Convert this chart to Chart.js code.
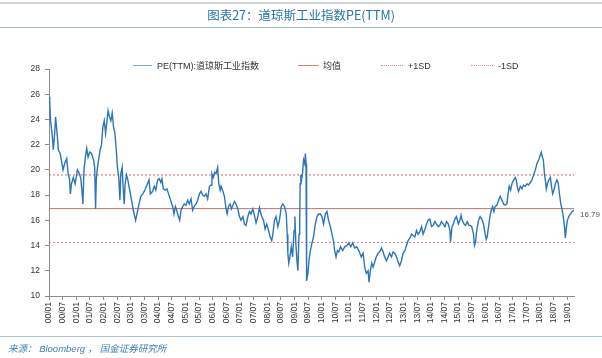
<!DOCTYPE html>
<html>
<head>
<meta charset="utf-8">
<script src="https://cdn.jsdelivr.net/npm/chart.js@4/dist/chart.umd.min.js"></script>
<style>
  body { margin: 0; background: #fff; }
  #wrap { position: relative; width: 602px; height: 358px; overflow: hidden; font-family: "Liberation Sans", Arial, "Noto Sans CJK SC", sans-serif; }
  #chart { position: absolute; left: 0; top: 0; }
  .rule { position: absolute; left: 0; width: 602px; }
  #title { position: absolute; left: 0; width: 602px; top: 6px; text-align: center; font-size: 12.5px; line-height: 18px; color: #2a72a8; font-family: "Noto Sans CJK SC", "Liberation Sans", sans-serif; }
  .lg { position: absolute; top: 60px; font-size: 9px; line-height: 12px; color: #333; white-space: nowrap; }
  .ls { position: absolute; top: 65px; height: 0; }
  #source { position: absolute; left: 8px; top: 343px; font-size: 9.5px; line-height: 12px; font-style: italic; color: #3f80b5; white-space: nowrap; }
</style>
</head>
<body>
<div id="wrap">
  <canvas id="chart" width="602" height="358"></canvas>
  <div class="rule" style="top:2px;border-top:2px solid #cdd6db;"></div>
  <div id="title">图表27：道琼斯工业指数PE(TTM)</div>
  <div class="rule" style="top:27px;border-top:1.5px solid #9db7c5;"></div>

  <div class="ls" style="left:133px;width:19px;border-top:1px solid #7fa9cf;"></div>
  <div class="lg" style="left:157px;">PE(TTM):道琼斯工业指数</div>
  <div class="ls" style="left:298px;width:21px;border-top:1px solid #d77f79;"></div>
  <div class="lg" style="left:323px;">均值</div>
  <div class="ls" style="left:381px;width:22px;border-top:1px dotted #d98b86;"></div>
  <div class="lg" style="left:408px;">+1SD</div>
  <div class="ls" style="left:471px;width:22px;border-top:1px dotted #dd9aa8;"></div>
  <div class="lg" style="left:498px;">-1SD</div>

  <div class="rule" style="top:336px;border-top:1px solid #a8c5d2;"></div>
  <div id="source">来源： Bloomberg ， 国金证券研究所</div>
</div>
<script>
// months since 2000/01
const peMonths = [
  0, 0.3, 0.7, 1.5, 1.9, 2.5, 2.9, 3.7, 4.1, 4.9, 5.4, 6.2, 6.9, 7.8, 8.4, 9.0, 9.4, 9.9,
  10.7, 11.5, 12.5, 13.4, 14.0, 14.6, 14.9, 15.4, 16.0, 16.6, 17.2, 17.9, 18.7, 19.6, 20.1,
  20.5, 20.8, 21.2, 21.8, 22.5, 23.1, 23.7, 24.3, 24.9, 25.4, 26.0, 26.6, 27.2, 27.8, 28.4,
  29.0, 29.6, 30.1, 30.7, 31.2, 31.6, 32.2, 32.6, 33.1, 33.5, 34.1, 34.7, 35.4, 36.3, 37.2,
  38.1, 38.7, 39.6, 40.4, 41.3, 42.2, 43.1, 44.0, 44.6, 45.6, 46.3, 47.0, 47.8, 48.5, 49.2,
  49.7, 50.3, 51.2, 51.9, 52.6, 53.5, 54.4, 55.0, 55.6, 56.2, 56.9, 57.5, 58.1, 58.8, 59.5,
  60.3, 61.0, 61.7, 62.5, 63.2, 63.9, 64.7, 65.4, 66.2, 66.9, 67.6, 68.4, 69.1, 69.8, 70.6,
  71.3, 71.7, 72.3, 72.9, 73.5, 74.2, 74.7, 75.3, 75.7, 76.5, 77.2, 77.9, 78.4, 79.0, 79.7,
  80.3, 80.9, 81.6, 82.3, 83.1, 83.8, 84.5, 85.3, 86.0, 86.7, 87.5, 88.2, 88.9, 89.7, 90.4,
  91.1, 91.9, 92.6, 93.0, 93.6, 94.4, 95.1, 95.8, 96.6, 97.3, 98.0, 98.5, 99.2, 99.9, 100.7,
  101.4, 102.2, 102.9, 103.6, 104.4, 104.8, 105.1, 105.5, 106.0, 106.6, 107.2, 107.8, 108.2,
  108.6, 109.1, 109.5, 110.0, 110.3, 110.5, 110.8, 111.1, 111.6, 112.0, 112.5, 112.8, 113.1,
  113.2, 113.5, 113.9, 114.4, 115.0, 115.7, 116.4, 117.2, 117.9, 118.6, 119.4, 120.1, 120.8,
  121.6, 122.3, 123.0, 123.8, 124.5, 125.1, 125.7, 126.3, 126.9, 127.5, 128.3, 129.2, 130.1,
  131.0, 131.9, 132.8, 133.6, 134.5, 135.4, 136.3, 137.4, 138.2, 138.9, 139.6, 140.4, 140.8,
  141.4, 142.0, 142.6, 143.3, 144.0, 144.8, 145.5, 146.3, 147.0, 147.7, 148.5, 149.2, 149.9,
  150.7, 151.4, 152.1, 152.9, 153.6, 154.3, 155.1, 155.8, 156.6, 157.3, 158.0, 158.8, 159.5,
  160.2, 161.0, 161.7, 162.4, 163.2, 163.9, 164.6, 165.4, 166.1, 166.8, 167.6, 168.3, 169.1,
  169.8, 170.5, 171.3, 172.0, 172.7, 173.5, 174.2, 174.9, 175.7, 176.4, 176.7, 177.3, 177.9,
  178.6, 179.3, 180.1, 180.8, 181.3, 181.8, 182.6, 183.3, 184.0, 184.8, 185.3, 186.0, 186.8,
  187.2, 187.7, 188.2, 189.0, 189.7, 190.4, 191.2, 191.9, 192.4, 192.8, 193.4, 194.0, 194.6,
  195.2, 195.8, 196.3, 197.1, 197.8, 198.5, 199.3, 200.0, 200.7, 201.5, 201.9, 202.5, 203.1,
  203.7, 204.4, 205.2, 205.6, 206.2, 206.6, 207.4, 208.1, 208.8, 209.6, 210.3, 211.0, 211.8,
  212.5, 213.2, 214.0, 214.7, 215.5, 216.2, 216.6, 217.1, 217.5, 218.0, 218.4, 218.8, 219.3,
  219.9, 220.6, 221.1, 221.6, 222.2, 222.8, 223.5, 224.0, 224.6, 225.2, 225.7, 226.3, 226.8,
  227.2, 227.7, 228.1, 228.7, 229.4, 230.2, 231.0
];
const peValues = [
  25.8, 25.4, 23.9, 22.6, 21.6, 22.9, 24.2, 22.6, 21.6, 21.3, 20.8, 20.0, 20.5, 20.9, 19.7, 19.3, 18.1, 18.9,
  19.4, 18.9, 20.0, 19.7, 19.3, 18.1, 17.3, 20.0, 21.0, 21.7, 21.0, 21.4, 21.3, 20.8, 20.2,
  16.9, 19.2, 20.0, 20.8, 21.6, 22.0, 23.4, 23.9, 22.9, 23.7, 24.7, 24.2, 23.9, 24.5, 23.4,
  22.9, 21.6, 20.2, 19.4, 17.6, 19.7, 20.2, 18.7, 17.3, 18.9, 19.6, 19.2, 18.5, 17.6, 16.7,
  16.0, 16.5, 17.3, 17.9, 18.1, 18.4, 18.8, 19.2, 18.1, 18.3, 18.7, 18.4, 19.2, 19.3, 19.0,
  19.3, 18.5, 18.4, 18.5, 18.1, 17.6, 17.1, 16.5, 17.1, 16.8, 16.3, 16.0, 16.8, 17.1, 17.3,
  17.2, 17.6, 17.3, 17.7, 16.8, 17.1, 17.3, 17.6, 18.1, 18.3, 18.0, 17.9, 18.1, 17.7, 18.7,
  18.8, 19.7, 19.4, 19.8, 19.7, 20.2, 18.9, 18.4, 18.7, 18.3, 17.9, 16.9, 16.5, 17.1, 17.3,
  16.9, 17.2, 17.5, 17.3, 16.9, 16.3, 16.0, 16.3, 15.7, 15.6, 16.3, 16.7, 16.5, 16.9, 16.4,
  15.8, 16.3, 17.0, 16.7, 16.3, 16.0, 15.3, 15.7, 15.2, 14.7, 14.4, 14.9, 16.0, 16.3, 15.5,
  16.0, 17.1, 17.3, 17.1, 16.5, 14.9, 13.4, 12.6, 13.1, 13.9, 13.1, 15.2, 16.3,
  14.2, 12.8, 12.0, 14.9, 15.5, 18.9, 19.6, 19.2, 19.8, 20.8, 20.5, 21.3, 20.5,
  12.8, 11.2, 11.8, 12.8, 13.6, 14.2, 14.7, 15.7, 16.3, 16.5, 16.5, 16.3, 15.7,
  16.5, 16.7, 16.0, 15.5, 14.9, 14.4, 13.6, 13.1, 13.6, 13.5, 13.9, 13.6, 13.9,
  14.0, 14.2, 13.9, 14.2, 13.8, 13.9, 13.6, 13.1, 13.4, 12.3, 11.8, 12.0, 11.1,
  12.0, 12.6, 12.3, 12.7, 13.1, 13.4, 13.5, 13.8, 13.5, 13.1, 12.8, 13.1, 13.4,
  13.1, 13.5, 13.4, 13.1, 12.7, 12.4, 12.8, 13.4, 13.6, 14.0, 14.4, 14.6, 14.9,
  14.8, 14.7, 15.2, 14.9, 15.1, 15.5, 14.9, 15.3, 15.7, 16.0, 16.1, 15.5, 15.6,
  15.9, 15.7, 15.5, 15.6, 15.9, 15.7, 15.5, 15.9, 15.7, 15.2, 14.3, 15.5, 15.7,
  16.1, 16.3, 15.7, 16.0, 16.4, 16.0, 15.7, 15.6, 15.9, 15.6, 15.6, 15.5, 14.9,
  14.0, 14.3, 15.2, 16.0, 16.3, 16.1, 15.7, 14.9, 14.5, 14.7, 15.5, 16.3, 16.8,
  17.1, 16.7, 17.1, 17.2, 17.6, 17.9, 17.6, 17.3, 17.2, 17.3, 18.0, 18.7, 18.4,
  18.9, 19.2, 19.4, 19.2, 18.5, 18.3, 18.7, 18.5, 18.8, 18.7, 18.9, 18.8, 19.0,
  19.2, 19.6, 20.0, 20.5, 20.8, 21.2, 21.4, 21.0, 20.8, 19.7, 19.2, 18.5, 18.9,
  19.2, 19.4, 18.7, 18.1, 18.4, 18.9, 19.2, 19.0, 18.1, 17.3, 16.9, 16.3, 15.5,
  14.6, 15.5, 16.0, 16.3, 16.5, 16.7, 16.79
];

const peMean = 16.93;
const pePlusSD = 19.6;
const peMinusSD = 14.25;

// x axis: a label every six months, 00/01 .. 19/01
const tickMonths = [];
for (let m = 0; m <= 228; m += 6) tickMonths.push(m);

const lastMonth = peMonths[peMonths.length - 1];
const flat = (v) => [{ x: 0, y: v }, { x: lastMonth, y: v }];

const monthLabel = (m) => {
    const yy = String(Math.floor(m / 12)).padStart(2, '0');
    const mm = String(m % 12 + 1).padStart(2, '0');
    return yy + '/' + mm;
};

// writes the latest value next to the end of the PE line
const lastValueLabel = {
    id: 'lastValueLabel',
    afterDatasetsDraw(chart) {
        const pts = chart.getDatasetMeta(0).data;
        const p = pts[pts.length - 1];
        const c = chart.ctx;
        c.save();
        c.font = '8px "Liberation Sans", Arial, sans-serif';
        c.fillStyle = '#595959';
        c.textBaseline = 'middle';
        c.fillText(peValues[peValues.length - 1].toFixed(2), p.x + 6, p.y + 4);
        c.restore();
    }
};

const tickFont = { family: "'Liberation Sans', Arial, sans-serif", size: 8.5 };

var ctx = document.getElementById('chart').getContext('2d');
var myChart = new Chart(ctx, {
    type: 'line',
    data: {
        datasets: [
            {
                label: 'PE(TTM):道琼斯工业指数',
                data: peMonths.map((m, i) => ({ x: m, y: peValues[i] })),
                borderColor: '#2b76bb',
                borderWidth: 1.4,
                pointRadius: 0,
                tension: 0
            },
            {
                label: '均值',
                data: flat(peMean),
                borderColor: '#c8706a',
                borderWidth: 1,
                pointRadius: 0
            },
            {
                label: '+1SD',
                data: flat(pePlusSD),
                borderColor: '#d0605c',
                borderWidth: 1,
                borderDash: [2, 2],
                pointRadius: 0
            },
            {
                label: '-1SD',
                data: flat(peMinusSD),
                borderColor: '#d47a8a',
                borderWidth: 1,
                borderDash: [2, 2],
                pointRadius: 0
            }
        ]
    },
    options: {
        responsive: false,
        animation: false,
        layout: { padding: { top: 69, right: 28, left: 0, bottom: 0 } },
        plugins: {
            legend: { display: false },
            title: { display: false },
            tooltip: { enabled: false }
        },
        scales: {
            x: {
                type: 'linear',
                min: 0,
                max: lastMonth,
                afterBuildTicks: (scale) => {
                    scale.ticks = tickMonths.map(v => ({ value: v }));
                },
                afterFit: (scale) => { scale.height = 62; },
                ticks: {
                    autoSkip: false,
                    minRotation: 90,
                    maxRotation: 90,
                    padding: 2,
                    color: '#333333',
                    font: tickFont,
                    callback: (v) => monthLabel(v)
                },
                grid: { drawOnChartArea: false, drawTicks: true, tickLength: 4, color: '#8c8c8c' },
                border: { display: true, color: '#8c8c8c' }
            },
            y: {
                min: 10,
                max: 28,
                afterFit: (scale) => { scale.width = 49; },
                ticks: {
                    stepSize: 2,
                    padding: 5,
                    color: '#333333',
                    font: tickFont
                },
                grid: { drawOnChartArea: false, drawTicks: true, tickLength: 4, color: '#8c8c8c' },
                border: { display: true, color: '#8c8c8c' }
            }
        }
    },
    plugins: [lastValueLabel]
});
</script>
</body>
</html>
